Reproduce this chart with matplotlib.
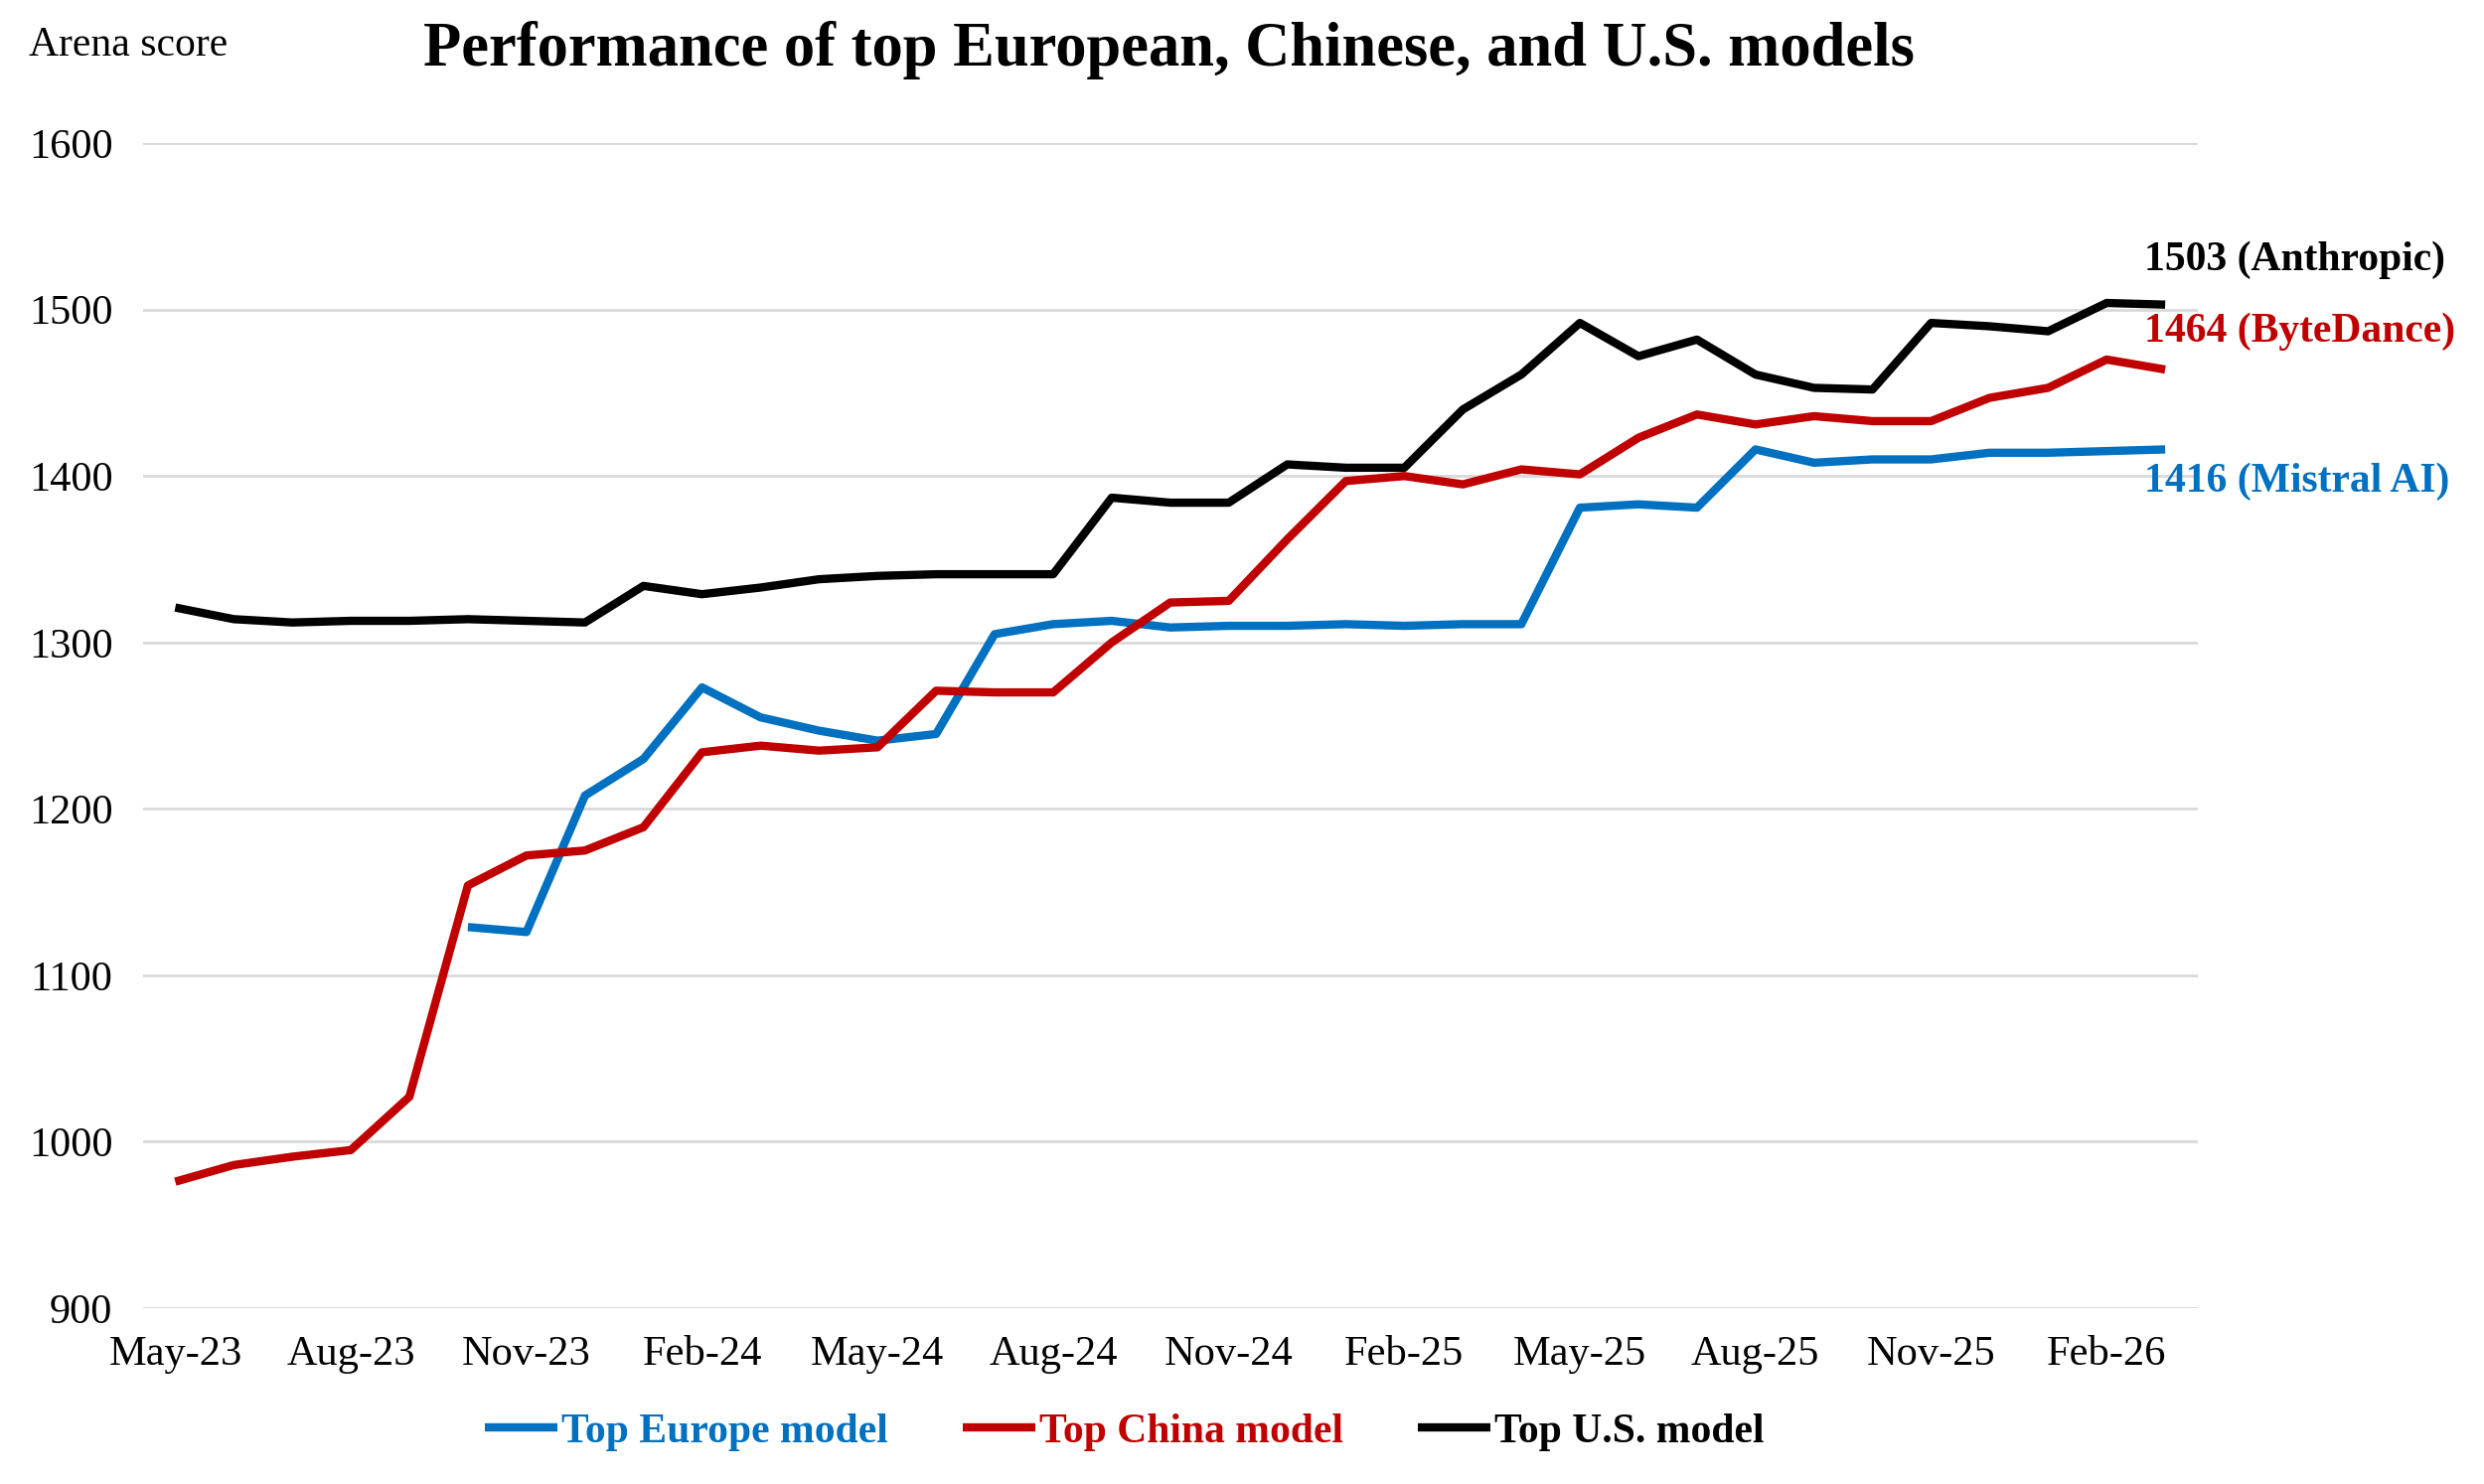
import numpy as np
import matplotlib
matplotlib.use("Agg")
import matplotlib.pyplot as plt

# monthly snapshots, May-23 .. Mar-26
months = ["May-23", "Jun-23", "Jul-23", "Aug-23", "Sep-23", "Oct-23", "Nov-23", "Dec-23",
          "Jan-24", "Feb-24", "Mar-24", "Apr-24", "May-24", "Jun-24", "Jul-24", "Aug-24",
          "Sep-24", "Oct-24", "Nov-24", "Dec-24", "Jan-25", "Feb-25", "Mar-25", "Apr-25",
          "May-25", "Jun-25", "Jul-25", "Aug-25", "Sep-25", "Oct-25", "Nov-25", "Dec-25",
          "Jan-26", "Feb-26", "Mar-26"]

us_scores = [1321, 1314, 1312, 1313, 1313, 1314, 1313, 1312,
             1334, 1329, 1333, 1338, 1340, 1341, 1341, 1341,
             1387, 1384, 1384, 1407, 1405, 1405, 1440, 1461,
             1492, 1472, 1482, 1461, 1453, 1452, 1492, 1490,
             1487, 1504, 1503]

china_scores = [976, 986, 991, 995, 1027, 1154, 1172, 1175,
                1189, 1234, 1238, 1235, 1237, 1271, 1270, 1270,
                1300, 1324, 1325, 1362, 1397, 1400, 1395, 1404,
                1401, 1423, 1437, 1431, 1436, 1433, 1433, 1447,
                1453, 1470, 1464]

europe_scores = [np.nan, np.nan, np.nan, np.nan, np.nan, 1129, 1126, 1208,
                 1230, 1273, 1255, 1247, 1241, 1245, 1305, 1311,
                 1313, 1309, 1310, 1310, 1311, 1310, 1311, 1311,
                 1381, 1383, 1381, 1416, 1408, 1410, 1410, 1414,
                 1414, 1415, 1416]

series_names = ["Top Europe model", "Top China model", "Top U.S. model"]
leaders = ["Mistral AI", "ByteDance", "Anthropic"]
colors = ["#0070c0", "#c00000", "#000000"]

plt.rcParams["font.family"] = ["Liberation Serif", "DejaVu Serif"]

fig = plt.figure(figsize=(25, 14.94), dpi=100)
ax = fig.add_axes([0.0576, 0.1185, 0.827, 0.785])

x = np.arange(len(months))
all_series = [europe_scores, china_scores, us_scores]
for vals, name, col in zip(all_series, series_names, colors):
    ax.plot(x, vals, color=col, lw=6, label=name, solid_capstyle="butt")

ax.set_xlim(-0.55, len(months) - 0.45)
ax.set_ylim(900, 1600)
ax.set_yticks(np.arange(900, 1601, 100))
ax.set_xticks(x[::3])
ax.set_xticklabels(months[::3])
ax.tick_params(axis="both", length=0, labelsize=30.5)
ax.tick_params(axis="x", pad=20)
ax.tick_params(axis="y", pad=22)
ax.grid(axis="y", color="#d9d9d9", lw=2)
ax.set_axisbelow(True)
for s in ax.spines.values():
    s.set_visible(False)

# end-of-line labels
label_offsets = [-19, 23, 27]
for vals, who, col, off in zip(all_series, leaders, colors, label_offsets):
    last = vals[-1]
    ax.text(len(months) - 1.35, last + off, f"{last:.0f} ({who})", color=col,
            fontsize=30, fontweight="bold", va="center", ha="left")

fig.text(0.0115, 0.982, "Arena score", fontsize=30, va="top", ha="left")
fig.text(0.4705, 0.966, "Performance of top European, Chinese, and U.S. models",
         fontsize=45, fontweight="bold", ha="center", va="center")

leg = fig.legend(loc="center", bbox_to_anchor=(0.4527, 0.035), ncol=3, frameon=False,
                 fontsize=30, handlelength=1.75, handletextpad=0.1, columnspacing=1.8)
for txt, col in zip(leg.get_texts(), colors):
    txt.set_color(col)
    txt.set_fontweight("bold")

fig.savefig("out.png", dpi=100)
